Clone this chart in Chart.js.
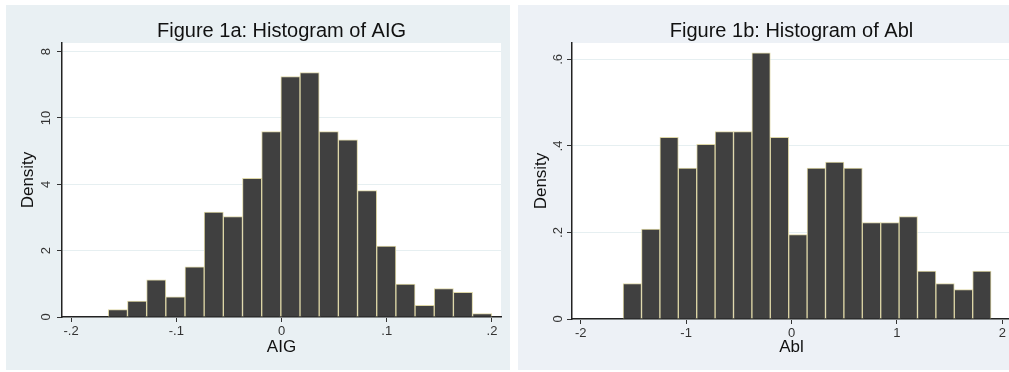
<!DOCTYPE html>
<html>
<head>
<meta charset="utf-8">
<script src="https://cdn.jsdelivr.net/npm/chart.js@4.4.1/dist/chart.umd.min.js"></script>
<style>
  html, body { margin: 0; padding: 0; background: #ffffff; overflow: hidden; }
  body { width: 1009px; height: 372px; position: relative; }
  .panel { position: absolute; top: 5px; height: 365px; }
  #panelA { left: 6px; width: 504px; background: #e9f0f3; }
  #panelB { left: 518px; width: 502px; background: #edf1f6; }
  canvas { display: block; }
</style>
</head>
<body>
<div class="panel" id="panelA"><canvas id="chartA" width="504" height="365"></canvas></div>
<div class="panel" id="panelB"><canvas id="chartB" width="502" height="365"></canvas></div>
<script>
// Figure 1a: AIG
const aigBinStart = -0.1646;
const aigBinWidth = 0.01822;
const aigDensity = [0.22, 0.48, 1.12, 0.61, 1.51, 3.16, 3.03, 4.18, 5.59, 7.25,
                    7.37, 5.59, 5.34, 3.81, 2.14, 0.99, 0.35, 0.86, 0.74, 0.10];
const aigXTicks = [-0.2, -0.1, 0, 0.1, 0.2];
const aigXLabels = ["-.2", "-.1", "0", ".1", ".2"];
const aigYTicks = [0, 2, 4, 6, 8];
const aigYLabels = ["0", "2", "4", "10", "8"];

// Figure 1b: Abl
const ablBinStart = -1.598;
const ablBinWidth = 0.1746;
const ablDensity = [0.082, 0.208, 0.420, 0.349, 0.404, 0.433, 0.433, 0.615, 0.420, 0.195,
                    0.349, 0.363, 0.349, 0.223, 0.223, 0.237, 0.111, 0.082, 0.068, 0.111];
const ablXTicks = [-2, -1, 0, 1, 2];
const ablXLabels = ["-2", "-1", "0", "1", "2"];
const ablYTicks = [0, 0.2, 0.4, 0.6];
const ablYLabels = ["0", ".2", ".4", ".6"];

const FONT = "'Liberation Sans', Arial, sans-serif";

// white plot region on the grey panel
const plotBackground = {
  id: "plotBackground",
  beforeDraw(chart) {
    const a = chart.chartArea;
    const ctx = chart.ctx;
    ctx.save();
    ctx.fillStyle = "#ffffff";
    ctx.fillRect(a.left, a.top, a.right - a.left, a.bottom - a.top);
    ctx.restore();
  },
};

function makeHistogram(canvasId, cfg) {
  const points = cfg.density.map((d, i) => ({
    x: cfg.binStart + (i + 0.5) * cfg.binWidth,
    y: d,
  }));

  return new Chart(document.getElementById(canvasId), {
    type: "bar",
    data: {
      datasets: [
        {
          data: points,
          backgroundColor: "#404040",
          borderColor: "#ddd6a6",
          borderWidth: 1,
          barPercentage: 1,
          categoryPercentage: 1,
        },
      ],
    },
    options: {
      responsive: false,
      animation: false,
      devicePixelRatio: 1,
      layout: { padding: { left: 0, right: 9, top: 0, bottom: 0 } },
      plugins: {
        legend: { display: false },
        tooltip: { enabled: false },
        title: {
          display: true,
          text: cfg.title,
          fullSize: false,
          color: "#111111",
          font: { family: FONT, size: 20, weight: "normal", lineHeight: 1.2 },
          padding: { top: 14, bottom: 0 },
        },
      },
      scales: {
        x: {
          type: "linear",
          min: cfg.xMin,
          max: cfg.xMax,
          offset: false,
          afterFit: (scale) => { scale.height = cfg.xAxisHeight; },
          afterBuildTicks: (scale) => { scale.ticks = cfg.xTicks.map((v) => ({ value: v })); },
          grid: { drawOnChartArea: false, drawTicks: true, tickLength: 5, tickColor: "#333333", offset: false },
          border: { display: true, color: "#222222", width: 1.5 },
          ticks: {
            autoSkip: false,
            maxRotation: 0,
            padding: 2,
            color: "#333333",
            font: { family: FONT, size: 13 },
            callback: (v) => cfg.xLabels[cfg.xTicks.indexOf(v)],
          },
          title: {
            display: true,
            text: cfg.xTitle,
            color: "#111111",
            font: { family: FONT, size: 17, lineHeight: 1.2 },
            padding: { top: 0, bottom: 12 },
          },
        },
        y: {
          min: 0,
          max: cfg.yMax,
          afterFit: (scale) => { scale.width = cfg.yAxisWidth; },
          afterBuildTicks: (scale) => { scale.ticks = cfg.yTicks.map((v) => ({ value: v })); },
          grid: { color: "#e6eff1", lineWidth: 1, drawTicks: true, tickLength: 5, tickColor: "#333333" },
          border: { display: true, color: "#222222", width: 1.5 },
          ticks: {
            minRotation: 90,
            maxRotation: 90,
            crossAlign: "center",
            padding: 3,
            color: "#333333",
            font: { family: FONT, size: 13 },
            callback: (v) => cfg.yLabels[cfg.yTicks.indexOf(v)],
          },
          title: {
            display: true,
            text: "Density",
            color: "#111111",
            font: { family: FONT, size: 17, lineHeight: 1.2 },
            padding: { top: cfg.yTitlePad, bottom: 0 },
          },
        },
      },
    },
    plugins: [plotBackground],
  });
}

makeHistogram("chartA", {
  title: "Figure 1a: Histogram of AIG",
  xTitle: "AIG",
  binStart: aigBinStart,
  binWidth: aigBinWidth,
  density: aigDensity,
  xTicks: aigXTicks,
  xLabels: aigXLabels,
  yTicks: aigYTicks,
  yLabels: aigYLabels,
  xMin: -0.2086,
  xMax: 0.2086,
  yMax: 8.26,
  yAxisWidth: 56,
  xAxisHeight: 53,
  yTitlePad: 12,
});

makeHistogram("chartB", {
  title: "Figure 1b: Histogram of Abl",
  xTitle: "Abl",
  binStart: ablBinStart,
  binWidth: ablBinWidth,
  density: ablDensity,
  xTicks: ablXTicks,
  xLabels: ablXLabels,
  yTicks: ablYTicks,
  yLabels: ablYLabels,
  xMin: -2.083,
  xMax: 2.083,
  yMax: 0.638,
  yAxisWidth: 54,
  xAxisHeight: 51,
  yTitlePad: 13.5,
});
</script>
</body>
</html>
